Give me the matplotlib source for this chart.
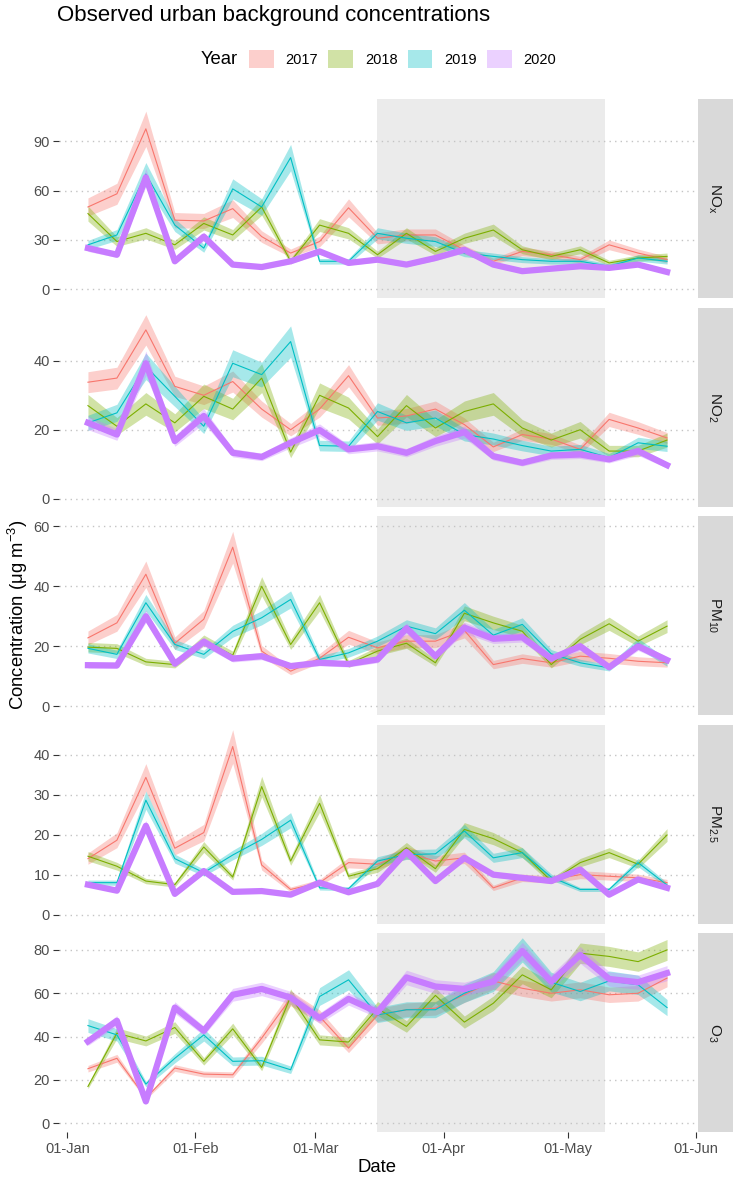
import matplotlib
matplotlib.use('Agg')
import matplotlib.pyplot as plt
import matplotlib.dates as mdates
from matplotlib.patches import Patch
import numpy as np
import datetime

plt.rcParams['font.family'] = ['Liberation Sans', 'DejaVu Sans']
plt.rcParams['mathtext.fontset'] = 'custom'
plt.rcParams['mathtext.rm'] = 'Liberation Sans'
plt.rcParams['mathtext.it'] = 'Liberation Sans:italic'

# weekly means, plotted on a 2020 calendar
start = datetime.datetime(2020, 1, 6)
dates = [start + datetime.timedelta(days=7 * i) for i in range(21)]

years = ['2017', '2018', '2019', '2020']
colors = ['#F8766D', '#7CAE00', '#00BFC4', '#C77CFF']

nox_2017 = [50, 58, 97.5, 42, 41.5, 49, 32, 22, 29, 49.5, 31, 33, 33, 24, 17, 23, 21, 18, 27, 22, 18]
nox_2018 = [46, 29, 34, 27, 40, 33, 50, 17, 39, 34, 21, 34, 23, 31, 36, 24, 20, 24, 16, 19, 20]
nox_2019 = [27, 33, 70, 39, 25, 61, 50, 80, 17, 17, 34, 31, 29, 22, 20, 18, 17, 17, 14, 19, 17]
nox_2020 = [25, 21, 68, 17, 32, 15, 13.5, 17, 23, 16, 18, 15, 19, 24, 15, 11, 12.5, 14, 13, 15, 10.5]

no2_2017 = [33.8, 35, 49, 32.6, 30, 34, 26, 20, 26, 35.7, 23.4, 24, 26, 21.5, 15, 18.6, 17.3, 14.3, 23, 20.5, 17.6]
no2_2018 = [27, 21, 27.5, 22, 29.7, 26, 35, 13.5, 30, 26.3, 18, 27, 20.5, 25.3, 27.5, 20.5, 17, 20, 13.8, 13.8, 17]
no2_2019 = [22, 24.9, 38.4, 29.7, 21, 39.3, 36, 45.6, 15.4, 15.2, 25.3, 22, 23.4, 18.6, 17.3, 15.4, 13.8, 14.3, 11.9, 16.2, 15.2]
no2_2020 = [22, 18.6, 39.3, 16.7, 24, 13.3, 12.1, 16.2, 19.9, 14.3, 15.2, 13.3, 16.7, 19.3, 12.3, 10.4, 12.5, 12.8, 11.4, 13.8, 9.7]

pm10_2017 = [22.8, 27.8, 44, 21, 29, 53, 18.4, 11.7, 16, 23, 19.5, 21.7, 21.7, 25.3, 13.9, 15.9, 14.5, 16.7, 16, 15, 14.5]
pm10_2018 = [19.7, 19.3, 14.8, 13.9, 22, 17, 40, 20.6, 34.5, 14.1, 18.4, 21, 14.5, 31, 27.8, 25, 13.9, 22.3, 27.5, 21.7, 26.7]
pm10_2019 = [19.3, 17.3, 34.5, 20.6, 17.3, 25, 29.5, 35.6, 15.6, 17.8, 21.7, 26.7, 24.2, 32, 23.7, 27.3, 17.5, 14.5, 12.8, 21, 14.5]
pm10_2020 = [13.7, 13.6, 30, 14.2, 21.5, 15.9, 16.7, 13.4, 14.5, 14.1, 15.6, 26, 16.7, 26.2, 22.5, 23, 15.9, 20, 13, 20, 15.4]

pm25_2017 = [14, 18.6, 34.3, 16.6, 20.5, 42, 12.4, 6.3, 8, 13, 12.6, 15.5, 13.4, 14.2, 6.7, 9.2, 8.8, 10, 9.6, 9.2, 8]
pm25_2018 = [14.6, 12.1, 8.4, 7.5, 16.9, 9.4, 32, 13.4, 27.8, 9.6, 11.5, 16.7, 11.5, 21.3, 19, 15.5, 8.4, 13, 15.5, 12.6, 19.9]
pm25_2019 = [8, 8, 28.6, 14, 10.5, 14.9, 18.8, 23.6, 6.7, 6.5, 13.4, 15, 15.2, 20.9, 14.2, 15.5, 9.4, 6.3, 6.3, 13, 7.4]
pm25_2020 = [7.5, 6, 22.2, 5.2, 10.9, 5.7, 5.9, 5, 8, 5.6, 7.7, 15.7, 8.4, 14.2, 10, 9.2, 8.4, 11.3, 5, 8.8, 6.7]

o3_2017 = [25.2, 30, 11.7, 25.5, 22.7, 22.4, 39.3, 57.7, 49.3, 34.7, 50, 52.4, 53.1, 59.3, 65.7, 62.3, 60, 61.6, 59.3, 60, 67]
o3_2018 = [17, 41.6, 38, 44.2, 28.6, 43.6, 25.8, 58.5, 38.5, 37.5, 53, 44.7, 59, 46.7, 55.4, 68.5, 61.6, 78.5, 77, 74.6, 80]
o3_2019 = [45.1, 40.8, 18.1, 30, 40.8, 28.6, 28.9, 24.7, 58.5, 66.2, 50, 52.4, 52.4, 60, 65.4, 80, 65.1, 60.8, 65.7, 63.9, 53.4]
o3_2020 = [37.8, 47.3, 10.1, 53.4, 42.7, 59.3, 62, 58, 48.5, 57.4, 51.3, 67.3, 63.1, 62, 65.4, 79.5, 65.4, 77.7, 66.6, 65.1, 69.3]

pollutants = ['NO$_\\mathrm{x}$', 'NO$_2$', 'PM$_{10}$', 'PM$_{2.5}$', 'O$_3$']
series = [
    [nox_2017, nox_2018, nox_2019, nox_2020],
    [no2_2017, no2_2018, no2_2019, no2_2020],
    [pm10_2017, pm10_2018, pm10_2019, pm10_2020],
    [pm25_2017, pm25_2018, pm25_2019, pm25_2020],
    [o3_2017, o3_2018, o3_2019, o3_2020],
]
# relative half-width of the confidence band, per pollutant and year
bands = [
    [0.11, 0.10, 0.10, 0.08],
    [0.09, 0.12, 0.10, 0.09],
    [0.10, 0.08, 0.08, 0.07],
    [0.10, 0.08, 0.08, 0.06],
    [0.06, 0.06, 0.07, 0.05],
]
yticks = [[0, 30, 60, 90], [0, 20, 40], [0, 20, 40, 60], [0, 10, 20, 30, 40], [0, 20, 40, 60, 80]]
ylims = [(-5.3, 115.6), (-2.3, 55.5), (-2.9, 63.4), (-2.2, 47.5), (-4.0, 87.8)]

lockdown = (datetime.datetime(2020, 3, 16), datetime.datetime(2020, 5, 10))
xlim = (datetime.datetime(2019, 12, 30), datetime.datetime(2020, 6, 1))

W, H = 733, 1179
fig = plt.figure(figsize=(W / 100, H / 100), dpi=100)

px_left, px_right = 59, 696
tops = [99, 307.5, 516, 724.5, 933]
ph = 199
grey = '#4D4D4D'

for i, name in enumerate(pollutants):
    ax = fig.add_axes([px_left / W, 1 - (tops[i] + ph) / H, (px_right - px_left) / W, ph / H])
    ax.axvspan(lockdown[0], lockdown[1], color='#EBEBEB', lw=0, zorder=0)
    for j, ys in enumerate(series[i]):
        ys = np.array(ys)
        ax.fill_between(dates, ys * (1 - bands[i][j]), ys * (1 + bands[i][j]), color=colors[j],
                        alpha=0.35, lw=0, zorder=2)
        ax.plot(dates, ys, color=colors[j], lw=4.5 if j == 3 else 0.8,
                solid_joinstyle='round', zorder=3)
    ax.set_xlim(xlim)
    ax.set_ylim(ylims[i])
    ax.set_yticks(yticks[i])
    ax.yaxis.grid(True, color='#C4C4C4', ls=(0, (1, 3)), lw=1.0)
    ax.set_axisbelow(True)
    for s in ax.spines.values():
        s.set_visible(False)
    ax.tick_params(axis='y', length=4.5, width=0.8, color='#333333', labelsize=10.5,
                   labelcolor=grey, pad=2)
    ax.xaxis.set_major_locator(mdates.MonthLocator())
    ax.xaxis.set_major_formatter(mdates.DateFormatter('%d-%b'))
    if i < 4:
        ax.tick_params(axis='x', length=0, labelbottom=False)
    else:
        ax.tick_params(axis='x', length=4.5, width=0.8, color='#333333', labelsize=10.5,
                       labelcolor=grey, pad=3)
    # facet strip
    sax = fig.add_axes([698 / W, 1 - (tops[i] + ph) / H, 35 / W, ph / H])
    sax.set_facecolor('#D9D9D9')
    sax.set_xticks([])
    sax.set_yticks([])
    for s in sax.spines.values():
        s.set_visible(False)
    sax.text(0.45, 0.5, name, rotation=-90, ha='center', va='center', fontsize=11,
             color='#1A1A1A', transform=sax.transAxes)

fig.text(57 / W, 1 - 15 / H, 'Observed urban background concentrations', fontsize=16,
         ha='left', va='center')
fig.text(18 / W, 1 - 615 / H, 'Concentration (μg m$^{-3}$)', rotation=90, fontsize=13.3,
         ha='center', va='center')
fig.text(377 / W, 1 - 1168 / H, 'Date', fontsize=13.3, ha='center', va='center')

fig.text(201 / W, 1 - 59 / H, 'Year', fontsize=13.3, ha='left', va='center')
handles = [Patch(facecolor=c, alpha=0.35, edgecolor='none') for c in colors]
leg = fig.legend(handles, years, ncol=4, loc='center left',
                 bbox_to_anchor=(249 / W, 1 - 59 / H), frameon=False, fontsize=10.5,
                 handlelength=1.7, handleheight=1.6, handletextpad=0.8, columnspacing=0.7,
                 borderaxespad=0, borderpad=0)

fig.savefig('out.png', dpi=100)
